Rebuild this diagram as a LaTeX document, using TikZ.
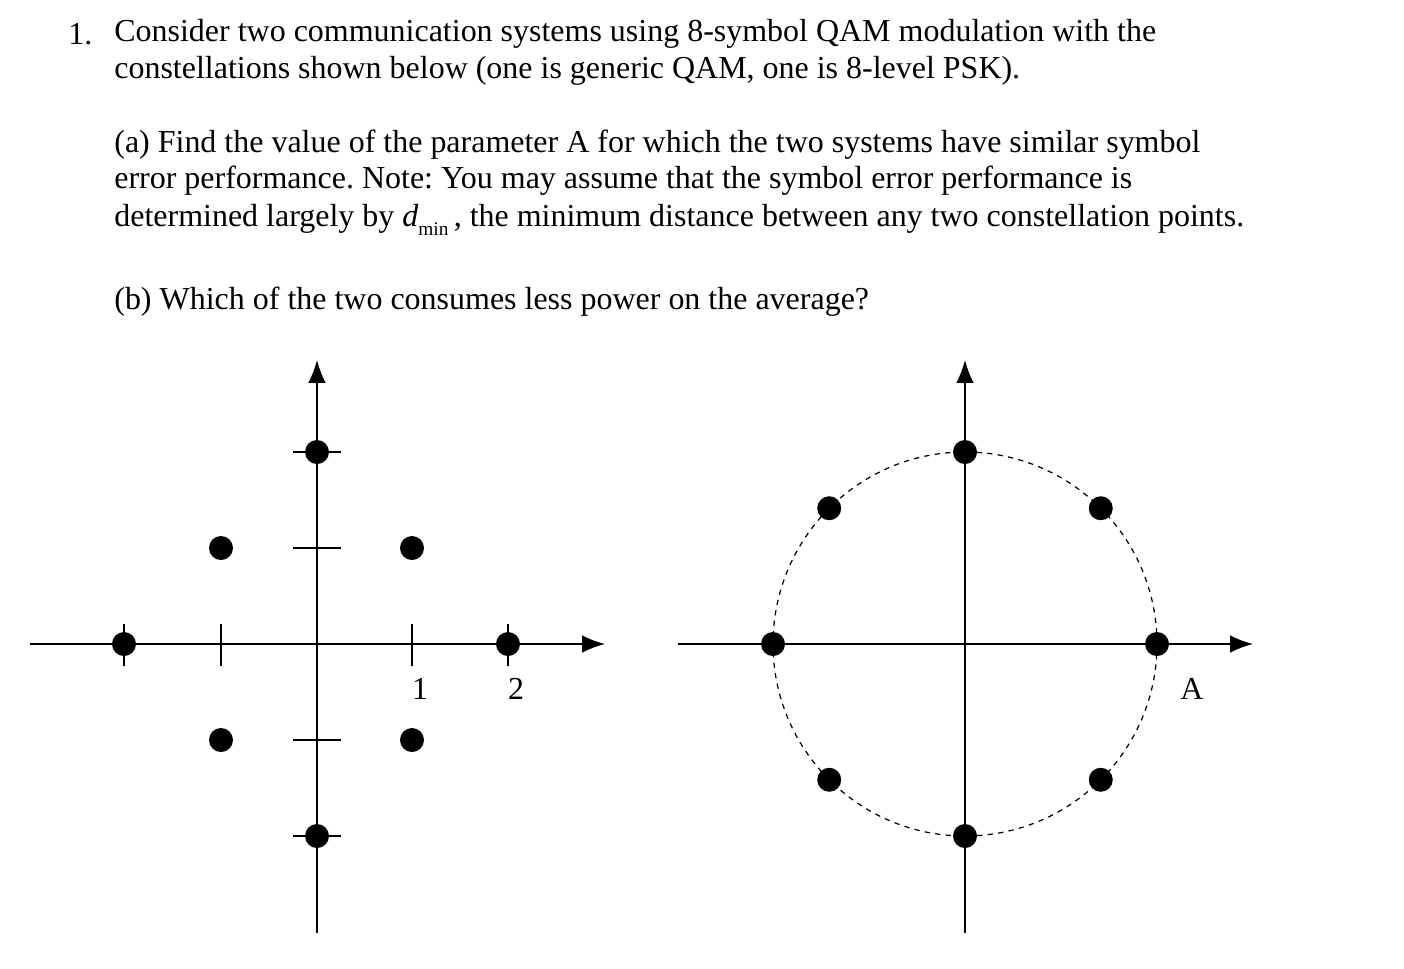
\documentclass[tikz,border=0pt]{standalone}
\usepackage{fontspec}
\setmainfont{Liberation Serif}
\usetikzlibrary{arrows.meta,calc}
\frenchspacing
\begin{document}
\begin{tikzpicture}[x=0.02cm,y=-0.02cm,
  txt/.style={anchor=west,inner sep=0,font=\fontsize{18.2}{21}\selectfont},
  ax/.style={line width=0.9pt,-{Latex[length=13pt,width=10pt]}},
  dot/.style={circle,fill=black,minimum size=24*0.02cm,inner sep=0}]
\useasboundingbox (0,0) rectangle (1404,968);
\node[txt] (n1) at (68,34) {1.};
\node[txt] (l1) at (114,34) {Consider two communication systems using 8-symbol QAM modulation with the};
\node[txt] (l2) at (114,71) {constellations shown below (one is generic QAM, one is 8-level PSK).};
\node[txt] (a1) at (114,145) {(a) Find the value of the parameter A for which the two systems have similar symbol};
\node[txt] (a2) at (114,181) {error performance. Note: You may assume that the symbol error performance is};
\node[txt] (a3) at (114,220) {determined largely by \textit{d}\raisebox{-0.6ex}{\fontsize{11}{12}\selectfont min}\,, the minimum distance between any two constellation points.};
\node[txt] (b1) at (114,302) {(b) Which of the two consumes less power on the average?};
% left
\coordinate (lo) at (317,644);
\draw[ax] (317,933) -- (317,360);
\draw[ax] (30,644) -- (605,644);
\foreach \x in {124,221,412,508} \draw[line width=0.9pt] (\x,624) -- (\x,666);
\foreach \y in {452,548,740,836} \draw[line width=0.9pt] (293,\y) -- (341,\y);
\foreach \p/\q [count=\i] in {317/452,317/836,124/644,508/644,221/548,412/548,221/740,412/740}
  \node[dot] (q\i) at (\p,\q) {};
\node[txt,anchor=center] (t1) at (420,689) {1};
\node[txt,anchor=center] (t2) at (516,689) {2};
% right
\coordinate (ro) at (965,644);
\draw[dashed,line width=0.7pt] (ro) circle[radius=192*0.02cm];
\draw[ax] (965,933) -- (965,360);
\draw[ax] (678,644) -- (1253,644);
\foreach \a [count=\i] in {0,45,...,315}
  \node[dot] (p\i) at ($(ro)+(\a:192*0.02cm)$) {};
\node[txt,anchor=center] (tA) at (1192,689) {A};
\end{tikzpicture}
\end{document}
